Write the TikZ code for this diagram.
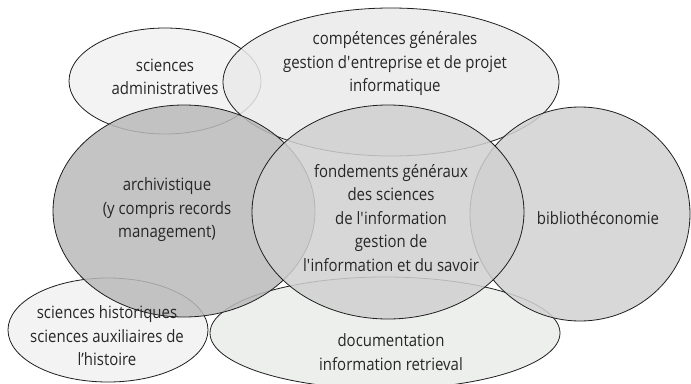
\documentclass[tikz,border=0pt]{standalone}
\usepackage{fontspec}
\setmainfont{Open Sans}[FakeStretch=0.88]
\definecolor{cadm}{RGB}{242,242,242}
\definecolor{chist}{RGB}{241,241,241}
\definecolor{cdoc}{RGB}{235,237,235}
\definecolor{ccomp}{RGB}{233,234,233}
\definecolor{carch}{RGB}{186,186,186}
\definecolor{cbib}{RGB}{210,210,211}
\definecolor{cfond}{RGB}{208,208,209}
\definecolor{ctxt}{RGB}{38,38,38}
\begin{document}
\begin{tikzpicture}[x=1pt,y=-1pt,
  blob/.style={draw=black!88, line width=0.8pt, fill opacity=0.85},
  lbl/.style={align=center, font=\fontsize{17}{23.5}\selectfont, text=ctxt, inner sep=0pt}]
\useasboundingbox (0,0) rectangle (691,383);
\fill[white] (0,0) rectangle (691,383);
% circles, in drawing order
\path[blob, fill=cadm]  (165,81)  ellipse [x radius=96pt,  y radius=53pt];
\path[blob, fill=chist] (108,330) ellipse [x radius=100pt, y radius=52pt];
\path[blob, fill=cdoc]  (385,333) ellipse [x radius=175pt, y radius=56pt];
\path[blob, fill=ccomp] (391,82)  ellipse [x radius=168pt, y radius=74pt];
\path[blob, fill=carch] (184,211) ellipse [x radius=131pt, y radius=106pt];
\path[blob, fill=cbib]  (580,214) ellipse [x radius=110pt, y radius=107pt];
\path[blob, fill=cfond] (388,212) ellipse [x radius=136pt, y radius=107pt];
% labels
\node[lbl] (adm)  at (165,77)  {sciences\\administratives};
\node[lbl] (comp) at (395,64)  {compétences générales\\gestion d\textquotesingle entreprise et de projet\\informatique};
\node[lbl] (arch) at (167,210) {archivistique\\(y compris records\\management)};
\node[lbl] (fond) at (391,218) {fondements généraux\\des sciences\\de l\textquotesingle information\\gestion de\\l\textquotesingle information et du savoir};
\node[lbl] (bib)  at (598,218) {bibliothéconomie};
\node[lbl] (doc)  at (391,352) {documentation\\information retrieval};
\node[lbl] (hist) at (107,336) {sciences historiques\\sciences auxiliaires de\\l’histoire};
\end{tikzpicture}
\end{document}
